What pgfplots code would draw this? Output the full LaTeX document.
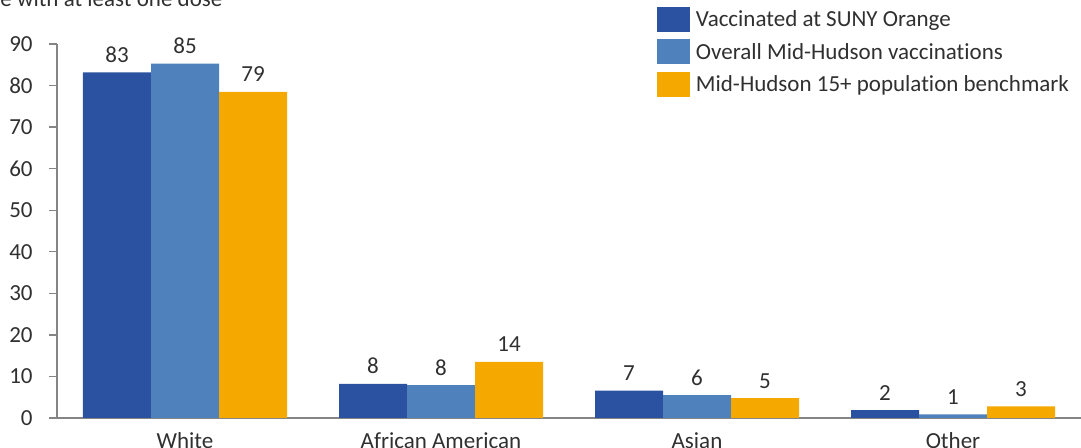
\documentclass[border=0pt]{standalone}
\usepackage{pgfplots}
\usepackage{pgfplotstable}
\pgfplotsset{compat=1.18}
\usepackage{fontspec}
\setmainfont{Carlito}[Ligatures=NoCommon]
\definecolor{cA}{HTML}{2A52A0}
\definecolor{cB}{HTML}{4F81BD}
\definecolor{cC}{HTML}{F5A800}
\definecolor{txt}{HTML}{303030}
\definecolor{axl}{HTML}{858585}
\newcommand\fs{\fontsize{11.5}{13.8}\selectfont}
\pgfplotstableread{
x y lab
0 83.2 83
1 8.2 8
2 6.6 7
3 1.9 2
}\suny
\pgfplotstableread{
x y lab
0 85.3 85
1 7.9 8
2 5.5 6
3 0.9 1
}\overall
\pgfplotstableread{
x y lab
0 78.5 79
1 13.5 14
2 4.8 5
3 2.8 3
}\bench
\begin{document}
\begin{tikzpicture}
\begin{axis}[
  scale only axis, width=512pt, height=187pt, at={(0,0)}, anchor=south west,
  xmin=-0.5, xmax=3.5, ymin=0, ymax=90,
  ybar=0pt, bar width=34pt,
  axis x line=bottom, axis y line=left,
  axis line style={-, draw=axl, line width=0.65pt},
  xtick={0,1,2,3}, xticklabels={White, African American, Asian, Other},
  xtick style={draw=none},
  ytick={0,10,...,90},
  ytick style={draw=axl, line width=0.65pt},
  tick align=outside, major tick length=4pt,
  /pgf/number format/assume math mode=true,
  ticklabel style={font=\fs, text=txt},
  yticklabel style={anchor=east, inner sep=0pt, xshift=-8pt},
  xticklabel style={anchor=base, inner sep=0pt, yshift=-11.2pt},
  clip=false,
  point meta=explicit symbolic,
  nodes near coords,
  every node near coord/.append style={font=\fs, text=txt, anchor=base, inner sep=0pt, yshift=5pt},
  legend style={draw=none, fill=none, inner sep=0pt, outer sep=0pt,
    at={(rel axis cs:0.5859,1.0989)}, anchor=north west,
    row sep=3.65pt, column sep=3pt, font=\fs, text=txt,
    nodes={inner sep=0pt, text height=9.95pt, text depth=2.55pt}},
  legend cell align=left,
  legend image code/.code={\fill[#1, draw=none] (0pt,-6.25pt) rectangle (16.5pt,6.25pt);},
]
\addplot[fill=cA, draw=none] table[x=x, y=y, meta=lab]{\suny};
\addplot[fill=cB, draw=none] table[x=x, y=y, meta=lab]{\overall};
\addplot[fill=cC, draw=none] table[x=x, y=y, meta=lab]{\bench};
\legend{Vaccinated at SUNY Orange, Overall Mid-Hudson vaccinations, Mid-Hudson 15+ population benchmark}
\end{axis}
\node[anchor=base west, inner sep=0pt, font=\fs, text=txt] at (-28.5pt,205.5pt) {\llap{Percentag}e with at least one dose};
\pgfresetboundingbox
\useasboundingbox (-28.5pt,-15pt) rectangle (512pt,209pt);
\end{tikzpicture}
\end{document}
